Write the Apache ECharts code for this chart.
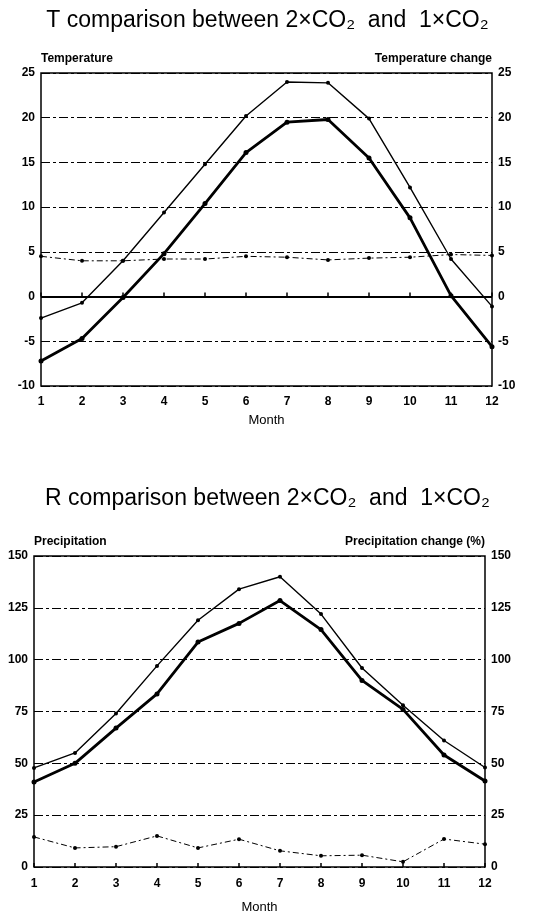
<!DOCTYPE html>
<html>
<head>
<meta charset="utf-8">
<script src="https://cdn.jsdelivr.net/npm/echarts@6/dist/echarts.min.js"></script>
<style>
  html, body { margin: 0; padding: 0; background: #fff; }
  #main { width: 535px; height: 916px; }
</style>
</head>
<body>
<div id="main"></div>
<script>
// months 1..12
var months = [1, 2, 3, 4, 5, 6, 7, 8, 9, 10, 11, 12];

// temperature (deg C)
var temp2x = [-2.4, -0.7, 4.0, 9.4, 14.8, 20.2, 24.0, 23.9, 19.9, 12.2, 4.2, -1.1];
var temp1x = [-7.2, -4.7, -0.1, 4.8, 10.4, 16.1, 19.5, 19.8, 15.5, 8.8, 0.1, -5.6];
var tempChange = [4.5, 4.0, 4.0, 4.2, 4.2, 4.5, 4.4, 4.1, 4.3, 4.4, 4.7, 4.6];

// precipitation
var prec2x = [47.8, 55, 74, 97, 119, 134, 140, 122, 96, 78, 61, 48];
var prec1x = [41, 50, 67, 83.5, 108.5, 117.5, 128.5, 114.5, 90, 76, 54, 41.5];
var precChange = [14.5, 9.2, 9.8, 15, 9.2, 13.4, 7.8, 5.4, 5.7, 2.5, 13.5, 11];

var titles = ['T comparison between 2\u00d7CO\u2082  and  1\u00d7CO\u2082',
              'R comparison between 2\u00d7CO\u2082  and  1\u00d7CO\u2082'];

function pairs(vals) {
    return months.map(function (m, i) { return [m, vals[i]]; });
}

var lblFont = { color: '#000', fontFamily: 'Liberation Sans', fontWeight: 'bold', fontSize: 12 };
var gridDash = { color: '#000', width: 1, type: [9, 3, 3, 3] };

function xAx(gi, gap, margin) {
    return {
        type: 'value', gridIndex: gi, min: 1, max: 12, interval: 1,
        name: 'Month', nameLocation: 'middle', nameGap: gap,
        nameTextStyle: { color: '#000', fontFamily: 'Liberation Sans', fontSize: 13 },
        axisLine: { show: false },
        axisTick: { show: true, inside: true, length: 4, lineStyle: { color: '#000', width: 1.5 } },
        axisLabel: Object.assign({ margin: margin }, lblFont),
        splitLine: { show: false }
    };
}

function yAx(gi, min, max, step, pos, name, align) {
    return {
        type: 'value', gridIndex: gi, min: min, max: max, interval: step, position: pos,
        name: name, nameLocation: 'end', nameGap: 8,
        nameTextStyle: { color: '#000', fontFamily: 'Liberation Sans', fontWeight: 'bold', fontSize: 12, align: align },
        axisLine: { show: false }, axisTick: { show: false },
        axisLabel: Object.assign({ margin: 6 }, lblFont),
        splitLine: { show: pos === 'left', lineStyle: gridDash }
    };
}

function lineS(xi, yi, vals, width, dash) {
    return {
        type: 'line', xAxisIndex: xi, yAxisIndex: yi, data: pairs(vals),
        symbol: 'circle', symbolSize: width > 2 ? 5 : 4,
        lineStyle: { color: '#000', width: width, type: dash || 'solid' },
        itemStyle: { color: '#000' }, silent: true, z: 3
    };
}

var chart = echarts.init(document.getElementById('main'));
var thick1 = lineS(0, 0, temp1x, 2.8);
thick1.markLine = {
    symbol: 'none', silent: true, label: { show: false },
    lineStyle: { color: '#000', type: 'solid', width: 2 },
    data: [{ yAxis: 0 }]
};

var titleStyle = { color: '#000', fontFamily: 'Liberation Sans', fontWeight: 'normal', fontSize: 23 };

chart.setOption({
    backgroundColor: '#fff',
    animation: false,
    title: [
        { text: titles[0], left: 'center', top: 4, textStyle: titleStyle },
        { text: titles[1], left: 'center', top: 482, textStyle: titleStyle }
    ],
    grid: [
        { left: 41, right: 43, top: 73, height: 313, show: true, borderColor: '#000', borderWidth: 1.5 },
        { left: 34, right: 50, top: 556, height: 311, show: true, borderColor: '#000', borderWidth: 1.5 }
    ],
    xAxis: [xAx(0, 28, 10), xAx(1, 34, 11)],
    yAxis: [
        yAx(0, -10, 25, 5, 'left', 'Temperature', 'left'),
        yAx(0, -10, 25, 5, 'right', 'Temperature change', 'right'),
        yAx(1, 0, 150, 25, 'left', 'Precipitation', 'left'),
        yAx(1, 0, 150, 25, 'right', 'Precipitation change (%)', 'right')
    ],
    series: [
        lineS(0, 0, temp2x, 1.4),
        thick1,
        lineS(0, 1, tempChange, 1, [6, 3, 2, 3]),
        lineS(1, 2, prec2x, 1.4),
        lineS(1, 2, prec1x, 2.8),
        lineS(1, 3, precChange, 1, [6, 3, 2, 3])
    ]
});
</script>
</body>
</html>
